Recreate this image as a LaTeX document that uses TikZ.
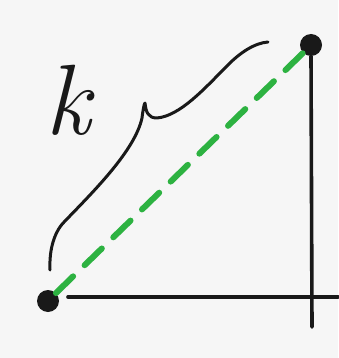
\documentclass[tikz,border=0pt]{standalone}
\usetikzlibrary{calc}
\definecolor{penk}{RGB}{25,25,25}
\definecolor{peng}{RGB}{45,178,65}
\definecolor{paper}{RGB}{246,246,246}
\tikzset{
  dot/.style={circle,fill=penk,inner sep=0pt,minimum size=22pt},
  axisline/.style={draw=penk,line width=3.6pt,line cap=round},
  greendash/.style={draw=peng,line width=6pt,line cap=round,dash pattern=on 24pt off 16pt},
  bracestroke/.style={draw=penk,line width=3pt,line cap=round,line join=round},
  lbl/.style={text=penk,inner sep=0pt,font=\fontsize{100}{100}\selectfont\itshape}
}
\begin{document}
\begin{tikzpicture}[x=1pt,y=-1pt]
\fill[paper] (0,0) rectangle (338,358);
\useasboundingbox (0,0) rectangle (338,358);
\node[dot] (a) at (48,301) {};
\node[dot] (b) at (311,45) {};
\coordinate (hend) at (338,297);
\coordinate (vend) at (312,327);
\coordinate (hstart) at (68,297);
\draw[axisline] (hstart) -- (hend);
\draw[axisline] (b.south) -- (vend);
\draw[greendash] (a.north east) -- (b.south west);
\draw[bracestroke] (50,270) .. controls (49,248) and (55,230) .. (66,220)
  .. controls (95,190) and (135,150) .. (142,118)
  .. controls (143,110) and (144,104) .. (145,103)
  .. controls (146,112) and (148,118) .. (157,118)
  .. controls (180,116) and (205,88) .. (225,68)
  .. controls (240,52) and (255,43) .. (268,42);
\node[lbl] (k) at (68,100) {k};
\end{tikzpicture}
\end{document}
